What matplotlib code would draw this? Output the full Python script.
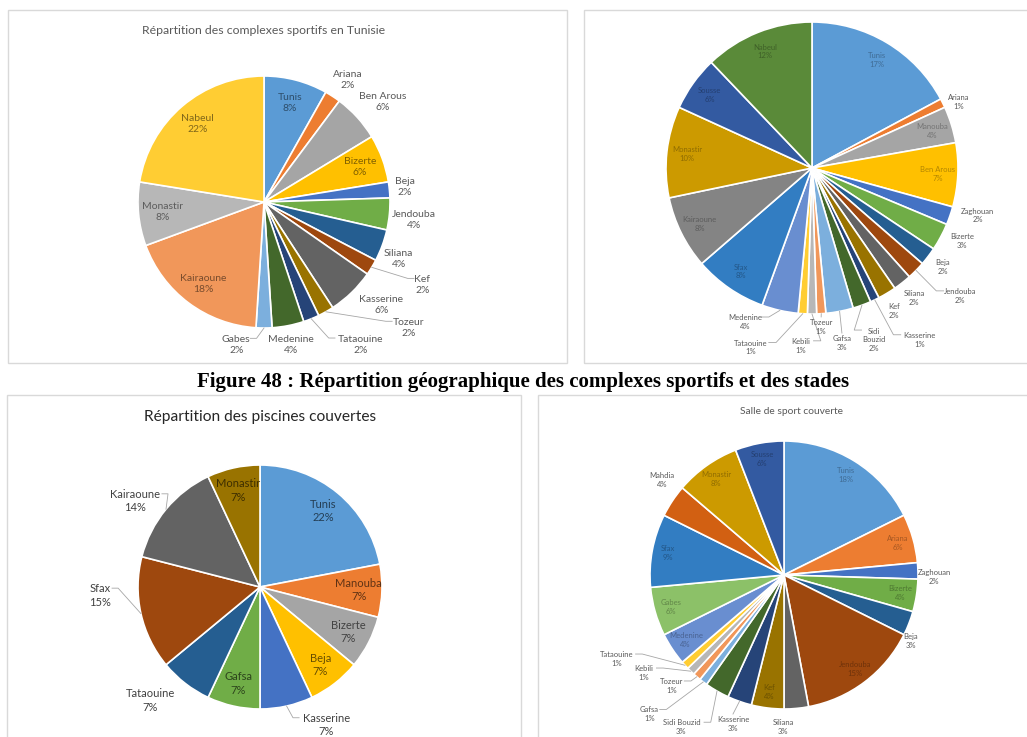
import numpy as np
import matplotlib.pyplot as plt
from matplotlib.patches import Rectangle
from matplotlib.colors import to_rgb

plt.rcParams['font.family'] = ['Lato', 'DejaVu Sans']

# ---------------- data ----------------
# complexes sportifs (top left)
cs_names = ['Tunis', 'Ariana', 'Ben Arous', 'Bizerte', 'Beja', 'Jendouba', 'Siliana', 'Kef',
            'Kasserine', 'Tozeur', 'Tataouine', 'Medenine', 'Gabes', 'Kairaoune', 'Monastir', 'Nabeul']
cs_pct = [8, 2, 6, 6, 2, 4, 4, 2, 6, 2, 2, 4, 2, 18, 8, 22]

# stades (top right)
st_names = ['Tunis', 'Ariana', 'Manouba', 'Ben Arous', 'Zaghouan', 'Bizerte', 'Beja', 'Jendouba',
            'Siliana', 'Kef', 'Kasserine', 'Sidi Bouzid', 'Gafsa', 'Tozeur', 'Kebili', 'Tataouine',
            'Medenine', 'Sfax', 'Kairaoune', 'Monastir', 'Sousse', 'Nabeul']
st_pct = [17, 1, 4, 7, 2, 3, 2, 2, 2, 2, 1, 2, 3, 1, 1, 1, 4, 8, 8, 10, 6, 12]

# piscines couvertes (bottom left)
pc_names = ['Tunis', 'Manouba', 'Bizerte', 'Beja', 'Kasserine', 'Gafsa', 'Tataouine', 'Sfax',
            'Kairaoune', 'Monastir']
pc_pct = [22, 7, 7, 7, 7, 7, 7, 15, 14, 7]

# salle de sport couverte (bottom right)
ss_names = ['Tunis', 'Ariana', 'Zaghouan', 'Bizerte', 'Beja', 'Jendouba', 'Siliana', 'Kef',
            'Kasserine', 'Sidi Bouzid', 'Gafsa', 'Tozeur', 'Kebili', 'Tataouine', 'Medenine',
            'Gabes', 'Sfax', 'Mahdia', 'Monastir', 'Sousse']
ss_pct = [18, 6, 2, 4, 3, 15, 3, 4, 3, 3, 1, 1, 1, 1, 4, 6, 9, 4, 8, 6]

# ---------------- colours (Office palette) ----------------
cs_colors = ['#5B9BD5', '#ED7D31', '#A5A5A5', '#FFC000', '#4472C4', '#70AD47', '#255E91', '#9E480E',
             '#636363', '#997300', '#264478', '#43682B', '#7CAFDD', '#F1975A', '#B7B7B7', '#FFCD33']
st_colors = ['#5B9BD5', '#ED7D31', '#A5A5A5', '#FFC000', '#4472C4', '#70AD47', '#255E91', '#9E480E',
             '#636363', '#997300', '#264478', '#43682B', '#7CAFDD', '#F1975A', '#B7B7B7', '#FFCD33',
             '#698ED0', '#327DC2', '#848484', '#CC9A00', '#335AA1', '#5A8A39']
pc_colors = ['#5B9BD5', '#ED7D31', '#A5A5A5', '#FFC000', '#4472C4', '#70AD47', '#255E91', '#9E480E',
             '#636363', '#997300']
ss_colors = ['#5B9BD5', '#ED7D31', '#4472C4', '#70AD47', '#255E91', '#9E480E', '#636363', '#997300',
             '#264478', '#43682B', '#7CAFDD', '#F1975A', '#B7B7B7', '#FFCD33', '#698ED0', '#8CC168',
             '#327DC2', '#D26012', '#CC9A00', '#335AA1']

W, H = 1027, 737
fig = plt.figure(figsize=(W / 100, H / 100), dpi=100)
fig.patch.set_facecolor('white')


def frame(x0, y0, x1, y1):
    fig.patches.append(Rectangle((x0 / W, 1 - y1 / H), (x1 - x0) / W, (y1 - y0) / H,
                                 transform=fig.transFigure, fill=False,
                                 edgecolor='#D9D9D9', linewidth=1.0))


def darken(c, k):
    r, g, b = to_rgb(c)
    return (r * k, g * k, b * k)


def draw_pie(cx, cy, r, names, values, colors, inside, fs, place, leaders,
             rf_in=0.82, out_color='#595959', in_k=0.55, disp=None, ls=1.3):
    ax = fig.add_axes([(cx - r) / W, 1 - (cy + r) / H, 2 * r / W, 2 * r / H])
    wedges, _ = ax.pie(values, colors=colors, startangle=90, counterclock=False, radius=1,
                       wedgeprops=dict(edgecolor='white', linewidth=1.2))
    ax.set_xlim(-1, 1)
    ax.set_ylim(-1, 1)
    ax.axis('off')
    disp = disp or {}
    lh = fs * 1.389 * ls / r          # line height in data units
    for w, name, v, c in zip(wedges, names, values, colors):
        mid = np.deg2rad((w.theta1 + w.theta2) / 2)
        label = disp.get(name, name) + '\n%d%%' % v
        if name in inside:
            x, y = rf_in * np.cos(mid), rf_in * np.sin(mid)
            col = darken(c, in_k)
        else:
            rf, a = place[name]
            x, y = rf * np.cos(np.deg2rad(a)), rf * np.sin(np.deg2rad(a))
            col = out_color
        ax.text(x, y, label, ha='center', va='center', fontsize=fs, color=col,
                linespacing=ls, clip_on=False)
        if name in leaders:
            lines = label.split('\n')
            hw = max(len(s) for s in lines) * 0.27 * fs * 1.389 / r
            top = y + len(lines) * lh / 2
            p0 = np.array([np.cos(mid), np.sin(mid)])
            if abs(x - p0[0]) < hw * 0.8 and p0[1] > top:
                xs, ys = [p0[0], x], [p0[1], top]
            else:
                side = -1 if x > p0[0] else 1
                ay = y + (len(lines) - 1) * lh / 2
                ax_ = x + side * hw
                xs = [p0[0], ax_ + side * 0.05, ax_]
                ys = [p0[1], ay, ay]
            ax.plot(xs, ys, color='#A6A6A6', lw=0.6, clip_on=False)
    return ax


# ---------- top left ----------
frame(8, 10, 567, 363)
fig.text(264 / W, 1 - 31 / H, 'Répartition des complexes sportifs en Tunisie',
         ha='center', va='center', fontsize=8.8, color='#595959')
draw_pie(264, 202, 126, cs_names, cs_pct, cs_colors,
         inside={'Tunis', 'Bizerte', 'Kairaoune', 'Monastir', 'Nabeul'}, fs=7.5,
         place={'Ariana': (1.175, 55.4), 'Ben Arous': (1.23, 40), 'Beja': (1.125, 6),
                'Jendouba': (1.2, -6.8), 'Siliana': (1.16, -22.9), 'Kef': (1.42, -27.7),
                'Kasserine': (1.24, -41.3), 'Tozeur': (1.525, -41), 'Tataouine': (1.367, -56),
                'Medenine': (1.155, -79.3), 'Gabes': (1.157, -101)},
         leaders={'Kef', 'Tozeur', 'Tataouine', 'Gabes'}, rf_in=0.81, in_k=0.5)

# ---------- top right ----------
frame(584, 10, 1030, 363)
draw_pie(812, 168, 146, st_names, st_pct, st_colors,
         inside={'Tunis', 'Manouba', 'Ben Arous', 'Sfax', 'Kairaoune', 'Monastir', 'Sousse', 'Nabeul'},
         fs=5.5,
         place={'Ariana': (1.10, 24.2), 'Zaghouan': (1.18, -16), 'Bizerte': (1.142, -26),
                'Beja': (1.124, -37), 'Jendouba': (1.34, -40.8), 'Siliana': (1.132, -51.9),
                'Kef': (1.129, -60.1), 'Kasserine': (1.387, -58), 'Sidi Bouzid': (1.252, -70.2),
                'Gafsa': (1.216, -80.3), 'Tozeur': (1.09, -86.7), 'Kebili': (1.22, -93.5),
                'Tataouine': (1.3, -109), 'Medenine': (1.15, -113.5)},
         leaders={'Jendouba', 'Kasserine', 'Sidi Bouzid', 'Gafsa', 'Tozeur', 'Kebili',
                  'Tataouine', 'Medenine'},
         rf_in=0.86, in_k=0.7, disp={'Sidi Bouzid': 'Sidi\nBouzid'})

# ---------- caption ----------
fig.text(523 / W, 1 - 382 / H,
         'Figure 48 : Répartition géographique des complexes sportifs et des stades',
         ha='center', va='center', fontsize=15, fontweight='bold',
         family='Liberation Serif', color='black')

# ---------- bottom left ----------
frame(7, 395, 521, 760)
fig.text(260 / W, 1 - 417 / H, 'Répartition des piscines couvertes',
         ha='center', va='center', fontsize=11.2, color='#262626')
draw_pie(260, 587, 122, pc_names, pc_pct, pc_colors,
         inside={'Tunis', 'Manouba', 'Bizerte', 'Beja', 'Gafsa', 'Monastir'}, fs=8,
         place={'Kasserine': (1.254, -64.4), 'Tataouine': (1.293, -134),
                'Sfax': (1.313, -177), 'Kairaoune': (1.244, 145.5)},
         leaders={'Kasserine', 'Sfax', 'Kairaoune'},
         rf_in=0.81, out_color='#404040', in_k=0.4)

# ---------- bottom right ----------
frame(538, 395, 1030, 760)
fig.text(791 / W, 1 - 411 / H, 'Salle de sport couverte',
         ha='center', va='center', fontsize=7.4, color='#595959')
draw_pie(784, 575, 134, ss_names, ss_pct, ss_colors,
         inside={'Tunis', 'Ariana', 'Bizerte', 'Jendouba', 'Kef', 'Medenine', 'Gabes', 'Sfax',
                 'Monastir', 'Sousse'},
         fs=5.5,
         place={'Zaghouan': (1.12, -0.8), 'Beja': (1.068, -27.5), 'Siliana': (1.134, -90.4),
                'Kasserine': (1.175, -108.9), 'Sidi Bouzid': (1.37, -124), 'Gafsa': (1.446, -134),
                'Tozeur': (1.177, -135.3), 'Kebili': (1.275, -145), 'Tataouine': (1.395, -153.3),
                'Mahdia': (1.154, 142)},
         leaders={'Kasserine', 'Sidi Bouzid', 'Gafsa', 'Tozeur', 'Kebili', 'Tataouine'},
         rf_in=0.88, in_k=0.7)

fig.savefig('out.png', dpi=100, facecolor='white')
